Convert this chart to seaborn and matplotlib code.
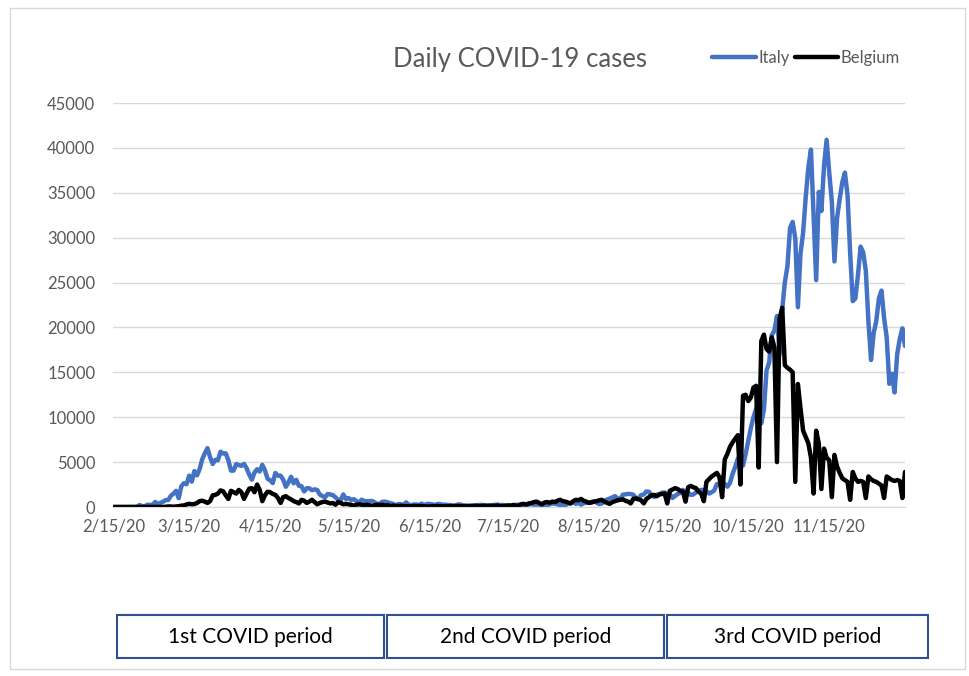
import matplotlib
matplotlib.use("Agg")
import numpy as np
import pandas as pd
import seaborn as sns
import matplotlib.pyplot as plt
from matplotlib.lines import Line2D
from matplotlib.patches import Rectangle

# daily series, 2/15/20 .. 12/14/20
dates = pd.date_range("2020-02-15", "2020-12-14", freq="D")

italy = (
    [0] * 10
    # Feb 25-29
    + [221, 93, 78, 250, 238]
    # Mar
    + [240, 566, 342, 466, 587, 769, 778, 1247, 1492, 1797, 977, 2313, 2651, 2547, 3497,
       2823, 4000, 3526, 4207, 5322, 5986, 6557, 5560, 4789, 5249, 5210, 6153, 5959, 5974, 5217, 4050]
    # Apr
    + [4053, 4782, 4668, 4585, 4805, 4316, 3599, 3039, 3836, 4204, 3951, 4694, 4092, 3153, 2972,
       2667, 3786, 3493, 3491, 3047, 2256, 2729, 3370, 2646, 3021, 2357, 2324, 1739, 2091, 2086]
    # May
    + [1872, 1965, 1900, 1389, 1221, 1075, 1444, 1401, 1327, 1083, 802, 744, 1402, 888, 992,
       789, 875, 675, 451, 813, 665, 642, 652, 669, 531, 300, 397, 584, 593, 516, 416]
    # Jun
    + [355, 178, 318, 321, 177, 518, 270, 197, 280, 283, 202, 379, 163, 346, 338,
       301, 210, 328, 333, 251, 262, 224, 218, 122, 190, 296, 259, 175, 174, 126]
    # Jul
    + [142, 187, 201, 223, 235, 192, 208, 138, 193, 229, 276, 188, 234, 169, 114,
       162, 230, 233, 249, 219, 190, 129, 282, 306, 252, 275, 255, 170, 181, 212, 289]
    # Aug
    + [386, 379, 295, 239, 159, 190, 384, 402, 552, 347, 463, 259, 412, 481, 523,
       574, 629, 479, 320, 403, 642, 845, 947, 1071, 1210, 953, 878, 1367, 1411, 1462, 1444]
    # Sep
    + [1365, 996, 978, 1326, 1397, 1733, 1695, 1297, 1108, 1370, 1434, 1597, 1616, 1501, 1456,
       1008, 1229, 1452, 1585, 1907, 1638, 1587, 1350, 1392, 1640, 1786, 1912, 1869, 1766, 1494]
    # Oct
    + [1648, 1851, 2548, 2499, 2844, 2578, 2257, 2677, 3678, 4458, 5372, 5724, 4619, 5901, 7332,
       8804, 10010, 10925, 11705, 9338, 10874, 15199, 16079, 19143, 19644, 21273, 17012, 21994, 24991, 26831, 31084]
    # Nov
    + [31758, 29907, 22253, 28244, 30550, 34505, 37809, 39811, 32616, 25271, 35098, 32961, 37978, 40902, 37255,
       33979, 27354, 32191, 34283, 36176, 37242, 34767, 28337, 22930, 23232, 25853, 29003, 28352, 26323, 20648]
    # Dec 1-14
    + [16377, 19350, 20709, 23225, 24099, 21052, 18887, 13720, 14842, 12756, 16999, 18727, 19903, 17938]
)

belgium = (
    [0] * 15
    # Mar
    + [0, 2, 6, 5, 10, 27, 59, 60, 31,
       60, 90, 150, 170, 280, 350, 300, 330, 450, 650, 700, 600, 450,
       650, 1300, 1350, 1500, 1850, 1750, 1300, 900, 1800]
    # Apr
    + [1650, 1500, 1900, 1650, 900, 1500, 2050, 2100, 1650, 2500, 1900, 650, 1300, 1700, 1650,
       1450, 1350, 1000, 450, 1100, 1200, 1000, 850, 650, 550, 400, 800, 700, 450, 600]
    # May
    + [800, 550, 300, 450, 550, 600, 500, 400, 450, 250, 550, 450, 300, 350, 300,
       250, 150, 250, 300, 250, 200, 250, 200, 100, 200, 250, 200, 250, 150, 200, 100]
    # Jun
    + [150, 120, 100, 130, 110, 80, 90, 60, 120, 100, 110, 90, 80, 70, 50,
       100, 90, 110, 80, 70, 90, 60, 100, 120, 90, 110, 100, 80, 70, 110]
    # Jul
    + [120, 100, 130, 90, 110, 140, 80, 150, 130, 120, 160, 110, 90, 120, 180,
       150, 200, 170, 120, 300, 350, 280, 400, 450, 550, 600, 450, 300, 500, 550, 480]
    # Aug
    + [600, 550, 700, 800, 650, 600, 500, 400, 650, 800, 750, 900, 700, 600, 450,
       500, 600, 650, 750, 800, 600, 450, 350, 550, 650, 750, 800, 850, 700, 600, 400]
    # Sep
    + [900, 950, 850, 750, 400, 900, 1100, 1300, 1350, 1200, 1400, 1450, 1500, 400, 1800,
       1950, 2100, 2000, 1800, 1700, 600, 2200, 2350, 2200, 2100, 1700, 1500, 650, 2800, 3100]
    # Oct
    + [3400, 3600, 3800, 3300, 1100, 5300, 5900, 6700, 7200, 7600, 8000, 2500, 12400, 12500, 11800,
       12200, 13300, 13500, 4400, 18500, 19200, 17600, 17300, 18900, 17800, 5000, 21000, 22200, 15800, 15500, 15300]
    # Nov
    + [15000, 2800, 13700, 11000, 8500, 7800, 7100, 5500, 1500, 8500, 7100, 2000, 6500, 5500, 5200,
       1100, 5800, 4500, 3800, 3200, 3000, 2800, 800, 3900, 3200, 2800, 2900, 2800, 1000, 3400]
    # Dec 1-14
    + [3100, 2900, 2800, 2600, 2400, 1000, 3400, 3200, 3000, 2900, 3000, 2900, 1000, 3900]
)

tick_dates = pd.to_datetime(["2020-02-15", "2020-03-15", "2020-04-15", "2020-05-15", "2020-06-15",
                             "2020-07-15", "2020-08-15", "2020-09-15", "2020-10-15", "2020-11-15"])
tick_labels = ["2/15/20", "3/15/20", "4/15/20", "5/15/20", "6/15/20",
               "7/15/20", "8/15/20", "9/15/20", "10/15/20", "11/15/20"]
periods = ["1st COVID period", "2nd COVID period", "3rd COVID period"]

df = pd.DataFrame({"date": dates, "Italy": italy, "Belgium": belgium})
df = df.melt(id_vars="date", var_name="country", value_name="cases")

sns.set_style("white")
plt.rcParams["font.family"] = ["Lato", "DejaVu Sans"]

W, H = 969, 676
fig = plt.figure(figsize=(W / 100, H / 100), dpi=100)
ax = fig.add_axes([113.4 / W, 1 - 507 / H, (905 - 113.4) / W, (507 - 103) / H])

colors = {"Italy": "#4472C4", "Belgium": "black"}
sns.lineplot(data=df, x="date", y="cases", hue="country", hue_order=["Italy", "Belgium"],
             palette=colors, linewidth=3.2, ax=ax, legend=False)

ax.set_xlim(dates[0], dates[-1])
ax.set_ylim(0, 45000)
ax.set_yticks(range(0, 45001, 5000))
ax.set_xticks(tick_dates, tick_labels)
ax.set_xlabel("")
ax.set_ylabel("")
ax.yaxis.grid(True, color="#D9D9D9", lw=1)
ax.set_axisbelow(True)
for s in ["top", "right", "left"]:
    ax.spines[s].set_visible(False)
ax.spines["bottom"].set_color("#D9D9D9")
ax.tick_params(axis="y", length=0, labelsize=12, labelcolor="#595959", pad=13)
ax.tick_params(axis="x", length=5, color="#D9D9D9", labelsize=12, labelcolor="#595959", pad=3)

fig.text(520 / W, 1 - 60 / H, "Daily COVID-19 cases", ha="center", va="center",
         fontsize=18.5, color="#595959")

handles = [Line2D([], [], color=colors[c], lw=3.2) for c in ["Italy", "Belgium"]]
fig.legend(handles, ["Italy", "Belgium"], loc="center", bbox_to_anchor=(806 / W, 1 - 58 / H),
           ncol=2, frameon=False, fontsize=12, handlelength=2.6, handletextpad=0.15,
           columnspacing=0.3, labelcolor="#595959")

# outer chart frame
fig.add_artist(Rectangle((10 / W, 1 - 669 / H), 955 / W, 661 / H, transform=fig.transFigure,
                         fill=False, edgecolor="#D9D9D9", lw=1))

# period boxes
box_x = [(117, 384), (387, 664), (667, 928)]
for (x0, x1), name in zip(box_x, periods):
    fig.add_artist(Rectangle((x0 / W, 1 - 658 / H), (x1 - x0) / W, 43 / H, transform=fig.transFigure,
                             fill=False, edgecolor="#2F528F", lw=1.5))
    fig.text((x0 + x1) / 2 / W, 1 - 637 / H, name, ha="center", va="center",
             fontsize=15, color="black")

fig.savefig("out.png", dpi=100)
